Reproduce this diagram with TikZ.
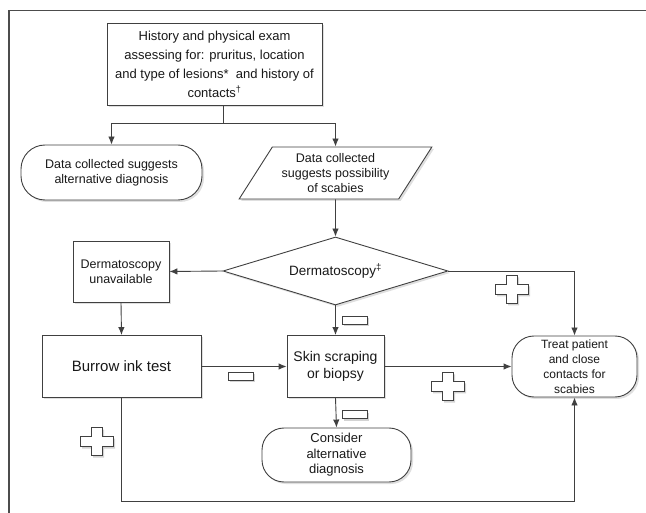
\documentclass[tikz,border=0pt]{standalone}
\usepackage{fontspec}
\setmainfont{Liberation Sans}
\usetikzlibrary{arrows.meta,shapes.geometric,shadows}

\begin{document}
\begin{tikzpicture}[x=1pt, y=-1pt, draw=black!75, line width=0.9pt, text=black!90,
  font=\fontsize{12.5}{15}\selectfont,
  box/.style={draw, fill=white, align=center, inner sep=1pt,
    drop shadow={opacity=0.25, shadow xshift=2pt, shadow yshift=-2pt}},
  stadium/.style={box, rounded corners=#1},
  arr/.style={-{Latex[length=8pt,width=6.5pt]}},
  plusmark/.style={draw, fill=white, line join=miter,
    drop shadow={opacity=0.35, shadow xshift=2pt, shadow yshift=-2.5pt}},
  minusmark/.style={plusmark}]

\useasboundingbox (0,0) rectangle (646,513);
\draw[line width=1.5pt, black!70] (9,513) -- (9,10.5) -- (646,10.5);

\node[box, minimum width=215, minimum height=82, font=\fontsize{13}{19}\selectfont] (hist) at (214.5,64)
  {History and physical exam\\assessing for: pruritus, location\\and type of lesions*~ and history of\\contacts\textsuperscript{†}};

\node[stadium=24pt, minimum width=181, minimum height=55] (alt) at (111.5,172.5)
  {Data collected suggests\\alternative diagnosis};
\node[box, trapezium, trapezium left angle=55, trapezium right angle=125, trapezium stretches=true,
  minimum width=193, minimum height=52] (sug) at (335.5,173)
  {Data collected\\suggests possibility\\of scabies};

\node[box, diamond, aspect=3.3, inner sep=0pt, minimum width=225, minimum height=68,
  font=\fontsize{13.5}{16}\selectfont] (derm) at (335.5,271) {Dermatoscopy\textsuperscript{‡}};
\node[box, minimum width=96, minimum height=61] (unav) at (121,271.5) {Dermatoscopy\\unavailable};

\node[box, minimum width=159, minimum height=62, font=\fontsize{15}{18}\selectfont] (ink) at (121.5,366.5) {Burrow ink test};
\node[box, minimum width=97, minimum height=62, font=\fontsize{14}{17}\selectfont] (scrape) at (335.5,366.5) {Skin scraping\\or biopsy};
\node[stadium=22pt, minimum width=125, minimum height=61, font=\fontsize{12}{15}\selectfont] (treat) at (574.5,366.5)
  {Treat patient\\and close\\contacts for\\scabies};
\node[stadium=22pt, minimum width=149, minimum height=54, font=\fontsize{13}{15.5}\selectfont] (other) at (336.5,455)
  {Consider\\alternative\\diagnosis};

\draw ([xshift=8.5pt]hist.south) -- ++(0,18) coordinate (fork);
\draw[arr] (fork) -| (alt.north);
\draw[arr] (fork) -| (sug.north);
\draw[arr] (sug.south) -- (derm.north);
\draw[arr] (derm.west) -- (unav.east);
\draw[arr] (unav.south) -- (ink.north);
\draw[arr] (derm.south) -- (scrape.north);
\draw[arr] (derm.east) -| (treat.north);
\draw[arr] (ink.east) -- (scrape.west);
\draw[arr] (scrape.east) -- (treat.west);
\draw[arr] (scrape.south) -- (other.north);
\coordinate (loop) at (0,501);
\draw[arr] (ink.south) -- (ink.south |- loop) -| (treat.south);

% result marks
\foreach \px/\py in {511.5/289, 447.5/386, 96.5/441}
  \draw[plusmark] (\px,\py) ++(-5.5,-14) -- ++(11,0) -- ++(0,9) -- ++(11,0) -- ++(0,10) -- ++(-11,0)
    -- ++(0,9) -- ++(-11,0) -- ++(0,-9) -- ++(-11,0) -- ++(0,-10) -- ++(11,0) -- cycle;
\foreach \mx/\my in {354.5/320, 240.5/376, 354.5/414}
  \draw[minusmark] (\mx-12.5,\my-4) rectangle (\mx+12.5,\my+4);
\end{tikzpicture}
\end{document}
